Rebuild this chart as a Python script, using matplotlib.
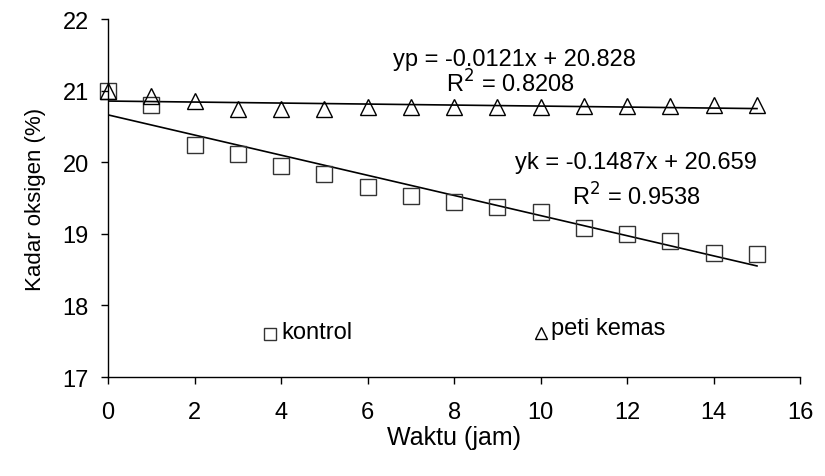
import matplotlib
matplotlib.use("Agg")
import matplotlib.pyplot as plt
import numpy as np

plt.rcParams["font.family"] = ["Liberation Sans", "DejaVu Sans"]

# hours
waktu = list(range(16))
# oxygen level (%)
kontrol = [21.0, 20.80, 20.24, 20.12, 19.95, 19.84, 19.66, 19.53,
           19.45, 19.38, 19.30, 19.08, 19.00, 18.90, 18.73, 18.72]
peti_kemas = [21.0, 20.93, 20.85, 20.75, 20.75, 20.75, 20.77, 20.77,
              20.77, 20.77, 20.77, 20.78, 20.78, 20.79, 20.80, 20.80]

eq_peti = ["yp = -0.0121x + 20.828", "R$^2$ = 0.8208"]
eq_kontrol = ["yk = -0.1487x + 20.659", "R$^2$ = 0.9538"]

x_ticks = list(range(0, 17, 2))
y_ticks = [17, 18, 19, 20, 21, 22]

fig = plt.figure(figsize=(8.25, 4.77), dpi=100)
ax = fig.add_axes([0.131, 0.2075, 0.839, 0.7505])

x = np.array(waktu)
# linear trend lines fitted to the data
for ys in (kontrol, peti_kemas):
    b, a = np.polyfit(x, ys, 1)
    ax.plot([x[0], x[-1]], [a + b * x[0], a + b * x[-1]], color="black", lw=1.2)

ax.plot(waktu, kontrol, ls="none", marker="s", ms=11, mfc="none",
        mec="#333333", mew=1.0, clip_on=False)
ax.plot(waktu, peti_kemas, ls="none", marker="^", ms=12, mfc="none",
        mec="black", mew=1.0, clip_on=False)

ax.set_xlim(0, 16)
ax.set_ylim(17, 22)
ax.set_xticks(x_ticks)
ax.set_yticks(y_ticks)
ax.tick_params(labelsize=17, length=5, width=1)
ax.tick_params(axis="x", pad=12)
ax.tick_params(axis="y", pad=9)
ax.spines["top"].set_visible(False)
ax.spines["right"].set_visible(False)
for s in ("left", "bottom"):
    ax.spines[s].set_linewidth(1)

ax.set_xlabel("Waktu (jam)", fontsize=18, labelpad=2)
ax.set_ylabel("Kadar oksigen (%)", fontsize=16, labelpad=12)

# trend line equations
ax.text(9.4, 21.44, eq_peti[0], fontsize=17, ha="center", va="center")
ax.text(9.3, 21.1, eq_peti[1], fontsize=17, ha="center", va="center")
ax.text(12.2, 20.0, eq_kontrol[0], fontsize=17, ha="center", va="center")
ax.text(12.2, 19.53, eq_kontrol[1], fontsize=17, ha="center", va="center")

# in-plot legend
ax.plot([3.75], [17.6], ls="none", marker="s", ms=9, mfc="none",
        mec="#333333", mew=1.0)
ax.text(4.0, 17.63, "kontrol", fontsize=17, va="center")
ax.plot([10.0], [17.62], ls="none", marker="^", ms=9, mfc="none",
        mec="black", mew=1.0)
ax.text(10.25, 17.69, "peti kemas", fontsize=17, va="center")

fig.savefig("out.png", dpi=100)
